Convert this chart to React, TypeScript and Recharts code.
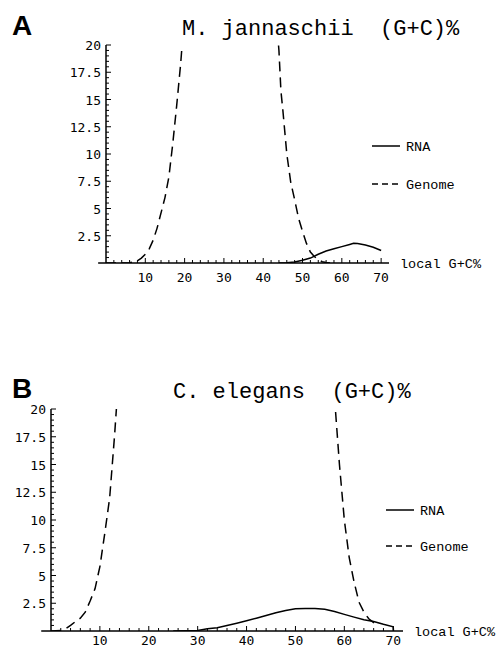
import React from 'react';
import { LineChart, Line, XAxis, YAxis, Legend, ReferenceLine } from 'recharts';

// M. jannaschii panel (A)
const jannGenomeX = [0, 4, 6, 8, 9, 10, 11, 12, 13, 14, 15, 16, 17, 18, 19, 20, 25, 30, 35, 40, 43, 44, 44.5, 45, 46, 47, 48, 49, 50, 51, 52, 53, 54, 55, 56, 57];
const jannGenomeY = [0, 0, 0.02, 0.2, 0.45, 0.8, 1.3, 2.1, 3.2, 4.6, 6.0, 7.9, 11.0, 14.5, 18.3, 23, 50, 60, 55, 35, 24, 19.5, 15.8, 14, 10, 7.4, 5.8, 4.1, 2.9, 1.8, 1.0, 0.6, 0.3, 0.12, 0.04, 0];
const jannRnaX = [44, 46, 48, 50, 52, 54, 56, 58, 60, 62, 63, 64, 66, 68, 70];
const jannRnaY = [0, 0.03, 0.1, 0.25, 0.45, 0.8, 1.1, 1.3, 1.5, 1.7, 1.8, 1.78, 1.65, 1.45, 1.15];

// C. elegans panel (B)
const elegGenomeX = [0, 2, 3, 4, 5, 6, 7, 8, 9, 10, 11, 12, 13, 14, 15, 20, 30, 40, 50, 55, 57, 58, 59, 60, 61, 62, 63, 64, 65, 66, 67];
const elegGenomeY = [0, 0.05, 0.2, 0.5, 0.85, 1.15, 1.7, 2.7, 3.8, 5.8, 8.8, 12.0, 17.6, 24, 32, 60, 90, 100, 80, 45, 28, 21, 15, 10, 6.6, 4.4, 2.6, 1.7, 1.1, 0.75, 0.45];
const elegRnaX = [25, 30, 32, 34, 36, 38, 40, 42, 44, 46, 48, 50, 52, 54, 56, 58, 60, 62, 64, 66, 68, 70, 70.05];
const elegRnaY = [0, 0.05, 0.2, 0.3, 0.5, 0.7, 0.92, 1.15, 1.4, 1.65, 1.85, 2.0, 2.02, 2.02, 1.95, 1.75, 1.5, 1.25, 1.02, 0.85, 0.6, 0.38, 0];

const xTicks = [2, 4, 6, 8, 10, 12, 14, 16, 18, 20, 22, 24, 26, 28, 30, 32, 34, 36, 38, 40, 42, 44, 46, 48, 50, 52, 54, 56, 58, 60, 62, 64, 66, 68, 70];
const xMajor = [10, 20, 30, 40, 50, 60, 70];
const yTicks = [0.5, 1, 1.5, 2, 2.5, 3, 3.5, 4, 4.5, 5, 5.5, 6, 6.5, 7, 7.5, 8, 8.5, 9, 9.5, 10, 10.5, 11, 11.5, 12, 12.5, 13, 13.5, 14, 14.5, 15, 15.5, 16, 16.5, 17, 17.5, 18, 18.5, 19, 19.5, 20];
const yMajor = [2.5, 5, 7.5, 10, 12.5, 15, 17.5, 20];
const seriesNames = ['RNA', 'Genome'];

const MONO = '"Liberation Mono", "DejaVu Sans Mono", monospace';
const TICKFONT = '"DejaVu Sans Mono", "Liberation Mono", monospace';

const toPoints = (xs: number[], ys: number[]) => xs.map((x, i) => ({ x, y: ys[i] }));

const makeXTick = (labelDy: number) => (props: any) => {
  const { x, y, payload } = props;
  const major = xMajor.includes(payload.value);
  return (
    <g>
      <line x1={x} x2={x} y1={y} y2={y - (major ? 5 : 3)} stroke="#000" strokeWidth={1} />
      {major && (
        <text x={x} y={y + labelDy} textAnchor="middle" fontFamily={TICKFONT} fontSize={13} fill="#000">
          {payload.value}
        </text>
      )}
    </g>
  );
};

const YTick = (props: any) => {
  const { x, y, payload } = props;
  const major = yMajor.includes(payload.value);
  return (
    <g>
      <line x1={x} x2={x + (major ? 5 : 3)} y1={y} y2={y} stroke="#000" strokeWidth={1} />
      {major && (
        <text x={x - 5} y={y + 5} textAnchor="end" fontFamily={TICKFONT} fontSize={13} fill="#000">
          {payload.value}
        </text>
      )}
    </g>
  );
};

interface PanelProps {
  top: number;
  height: number;
  letter: string;
  title: string;
  titleX: number;
  titleY: number;
  margin: { top: number; right: number; bottom: number; left: number };
  genome: { x: number; y: number }[];
  rna: { x: number; y: number }[];
  legendLeft: number;
  legendTop: number;
  legendGap: number;
  labelDy: number;
}

const Panel = (p: PanelProps) => {
  const XTick = makeXTick(p.labelDy);
  const renderLegend = () => (
    <svg width={110} height={p.legendGap + 30}>
      <line x1={0} x2={28} y1={12} y2={12} stroke="#000" strokeWidth={1.5} />
      <text x={34} y={16.5} fontFamily={MONO} fontSize={13.5} fill="#000">{seriesNames[0]}</text>
      <line x1={0} x2={28} y1={12 + p.legendGap} y2={12 + p.legendGap} stroke="#000" strokeWidth={1.5} strokeDasharray="6 4" />
      <text x={34} y={16.5 + p.legendGap} fontFamily={MONO} fontSize={13.5} fill="#000">{seriesNames[1]}</text>
    </svg>
  );

  return (
    <div style={{ position: 'absolute', left: 0, top: p.top, width: 500, height: p.height }}>
      <LineChart width={500} height={p.height} margin={p.margin}>
        <XAxis
          type="number"
          dataKey="x"
          domain={[0, 72]}
          allowDataOverflow
          ticks={xTicks}
          interval={0}
          tick={(t: any) => <XTick {...t} />}
          tickLine={false}
          tickSize={0}
          tickMargin={0}
          height={1}
          axisLine={{ stroke: '#000', strokeWidth: 1.5 }}
          label={{
            content: (l: any) => (
              <text
                x={l.viewBox.x + l.viewBox.width + 11}
                y={l.viewBox.y + 5}
                fontFamily={MONO}
                fontSize={13.5}
                fill="#000"
              >
                local G+C%
              </text>
            ),
          }}
        />
        <YAxis
          type="number"
          domain={[0, 20]}
          allowDataOverflow
          ticks={yTicks}
          interval={0}
          tick={(t: any) => <YTick {...t} />}
          tickLine={false}
          tickSize={0}
          tickMargin={0}
          width={1}
          axisLine={{ stroke: '#000', strokeWidth: 1.5 }}
        />
        <ReferenceLine
          segment={[{ x: -2, y: 0 }, { x: 0, y: 0 }]}
          stroke="#000"
          strokeWidth={1.5}
          ifOverflow="visible"
        />
        <Line
          data={p.genome}
          dataKey="y"
          name="Genome"
          type="linear"
          stroke="#000"
          strokeWidth={1.5}
          strokeDasharray="10 6"
          dot={false}
          isAnimationActive={false}
        />
        <Line
          data={p.rna}
          dataKey="y"
          name="RNA"
          type="linear"
          stroke="#000"
          strokeWidth={1.5}
          dot={false}
          isAnimationActive={false}
        />
        <Legend
          layout="horizontal"
          verticalAlign="middle"
          align="center"
          content={renderLegend}
          wrapperStyle={{ position: 'absolute', left: p.legendLeft, top: p.legendTop, width: 110 }}
        />
      </LineChart>
      <svg width={500} height={p.height} style={{ position: 'absolute', left: 0, top: 0, pointerEvents: 'none' }}>
        <text x={12} y={p.titleY} fontFamily='"Liberation Sans", Arial, sans-serif' fontWeight="bold" fontSize={28} fill="#000">
          {p.letter}
        </text>
        <text x={p.titleX} y={p.titleY} fontFamily={MONO} fontSize={22} fill="#000" style={{ whiteSpace: 'pre' }}>
          {p.title}
        </text>
      </svg>
    </div>
  );
};

export default function App() {
  return (
    <div style={{ position: 'absolute', left: 0, top: 0, width: 500, height: 647, background: '#fff', overflow: 'hidden' }}>
      <Panel
        top={0}
        height={300}
        letter="A"
        title="M. jannaschii  (G+C)%"
        titleX={182}
        titleY={35}
        margin={{ top: 45, right: 111, bottom: 36, left: 105 }}
        genome={toPoints(jannGenomeX, jannGenomeY)}
        rna={toPoints(jannRnaX, jannRnaY)}
        legendLeft={372}
        legendTop={134}
        legendGap={38}
        labelDy={19}
      />
      <Panel
        top={320}
        height={327}
        letter="B"
        title="C. elegans  (G+C)%"
        titleX={173}
        titleY={78}
        margin={{ top: 89, right: 97, bottom: 15, left: 50 }}
        genome={toPoints(elegGenomeX, elegGenomeY)}
        rna={toPoints(elegRnaX, elegRnaY)}
        legendLeft={386}
        legendTop={178}
        legendGap={36}
        labelDy={14}
      />
    </div>
  );
}
